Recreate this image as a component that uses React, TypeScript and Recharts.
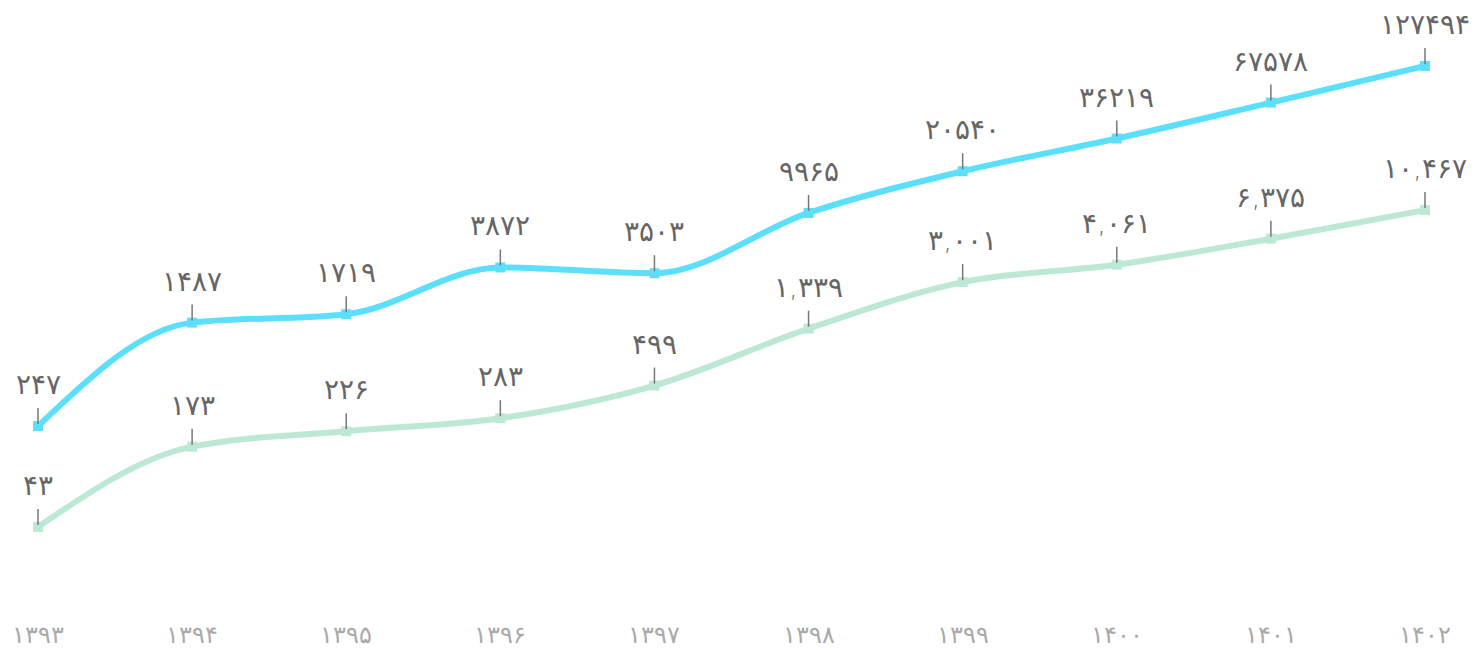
import { LineChart, Line, XAxis, YAxis, LabelList } from "recharts";

// years (Persian calendar)
const years = [1393, 1394, 1395, 1396, 1397, 1398, 1399, 1400, 1401, 1402];
// upper series (blue)
const blueValues = [247, 1487, 1719, 3872, 3503, 9965, 20540, 36219, 67578, 127494];
// lower series (green)
const greenValues = [43, 173, 226, 283, 499, 1339, 3001, 4061, 6375, 10467];

const BLUE = "#5cdffb";
const GREEN = "#bde8d3";
const FONT = "'DejaVu Sans', sans-serif";

const faDigits = (s: string) => s.replace(/[0-9]/g, (d) => "۰۱۲۳۴۵۶۷۸۹"[Number(d)]);
const withCommas = (n: number) => n.toString().replace(/\B(?=(\d{3})+(?!\d))/g, ",");

const data = years.map((y, i) => ({
  year: faDigits(String(y)),
  blue: blueValues[i],
  green: greenValues[i],
}));

const SquareDot = (color: string) => (props: any) => {
  const { cx, cy, index } = props;
  if (cx == null || cy == null) return null;
  return <rect key={index} x={cx - 5} y={cy - 5} width={10} height={10} fill={color} />;
};

const makeLabel = (fmt: (v: number) => string) => (props: any) => {
  const { x, y, value, index } = props;
  return (
    <g key={index}>
      <line x1={x} x2={x} y1={y - 18} y2={y - 2} stroke="#777" strokeWidth={1.5} />
      <text x={x} y={y - 32} textAnchor="middle" fill="#666" fontSize={28} fontWeight={300} fontFamily={FONT}>
        {fmt(value)}
      </text>
    </g>
  );
};

const YearTick = (props: any) => {
  const { x, payload } = props;
  return (
    <text x={x} y={643} textAnchor="middle" fill="#aaa" fontSize={24} fontWeight={300} fontFamily={FONT}>
      {payload.value}
    </text>
  );
};

const App = () => {
  return (
    <div style={{ position: "absolute", left: 0, top: 0, background: "#fff" }}>
      <LineChart width={1479} height={651} data={data} margin={{ top: 20, right: 54, bottom: 0, left: 38 }}>
        <XAxis dataKey="year" axisLine={false} tickLine={false} height={51} tick={<YearTick />} interval={0} />
        <YAxis hide scale="log" domain={[12.1, 283000]} allowDataOverflow />
        <Line
          type="monotone"
          dataKey="green"
          stroke={GREEN}
          strokeWidth={6}
          dot={SquareDot(GREEN)}
          activeDot={false}
          isAnimationActive={false}
        >
          <LabelList dataKey="green" content={makeLabel((v) => faDigits(withCommas(v)))} />
        </Line>
        <Line
          type="monotone"
          dataKey="blue"
          stroke={BLUE}
          strokeWidth={6}
          dot={SquareDot(BLUE)}
          activeDot={false}
          isAnimationActive={false}
        >
          <LabelList dataKey="blue" content={makeLabel((v) => faDigits(String(v)))} />
        </Line>
      </LineChart>
    </div>
  );
};

export default App;
